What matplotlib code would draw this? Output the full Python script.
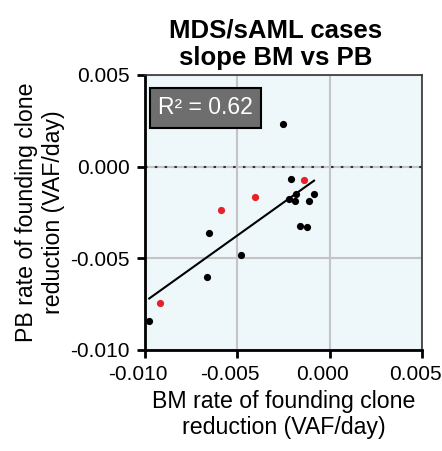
import numpy as np
import matplotlib.pyplot as plt
import matplotlib.transforms as mtransforms

plt.rcParams['font.family'] = ['Liberation Sans', 'DejaVu Sans']

# BM vs PB slopes (VAF/day)
bm_black = [-0.00251, -0.00211, -0.00220, -0.00182, -0.00187, -0.00112, -0.00085,
            -0.00162, -0.00124, -0.00652, -0.00482, -0.00666, -0.00977]
pb_black = [0.00234, -0.00067, -0.00178, -0.00148, -0.00190, -0.00190, -0.00150,
            -0.00322, -0.00328, -0.00360, -0.00482, -0.00600, -0.00840]
bm_red = [-0.00137, -0.00402, -0.00590, -0.00917]
pb_red = [-0.00074, -0.00167, -0.00237, -0.00745]
ticks = [-0.010, -0.005, 0.000, 0.005]
tick_labels = ['-0.010', '-0.005', '0.000', '0.005']
r2_label = "R\u00b2 = 0.62"

fig = plt.figure(figsize=(4.42, 4.51), dpi=100)
ax = fig.add_axes([0.328, 0.224, 0.627, 0.61])
ax.set_facecolor('#eef7fa')

ax.set_xlim(-0.010, 0.005)
ax.set_ylim(-0.010, 0.005)
ax.set_xticks(ticks)
ax.set_yticks(ticks)
ax.set_xticklabels(tick_labels)
ax.set_yticklabels(tick_labels)
ax.grid(True, color='#c4c4c4', lw=1.5, zorder=0)
ax.set_axisbelow(True)

ax.axhline(0, color='#333333', ls=(0, (1.2, 3.5)), lw=1.5, zorder=1)

# linear fit over all points
x_all = np.array(bm_black + bm_red)
y_all = np.array(pb_black + pb_red)
m, b = np.polyfit(x_all, y_all, 1)
xs = np.array([x_all.min(), x_all.max()])
ax.plot(xs, m * xs + b, color='black', lw=1.5, zorder=2)

ax.scatter(bm_black, pb_black, s=27, color='black', zorder=3, linewidths=0)
ax.scatter(bm_red, pb_red, s=27, color='#e8202a', zorder=3, linewidths=0)

ax.text(0.047, 0.88, r2_label, transform=ax.transAxes, fontsize=16.5, color='white',
        va='center', ha='left',
        bbox=dict(boxstyle='square,pad=0.36', facecolor='#6e6e6e', edgecolor='black', lw=1.5))

for s in ['left', 'bottom']:
    ax.spines[s].set_linewidth(2)
    ax.spines[s].set_color('black')
for s in ['top', 'right']:
    ax.spines[s].set_linewidth(1.2)
    ax.spines[s].set_color('#333333')
ax.tick_params(axis='both', direction='out', length=6, width=2, labelsize=15,
               colors='black', pad=5)

# x tick labels sit a little left of their ticks in the original
shift = mtransforms.ScaledTranslation(-7 / 100, 0, fig.dpi_scale_trans)
for lab in ax.get_xticklabels():
    lab.set_transform(lab.get_transform() + shift)

ax.set_title("MDS/sAML cases\nslope BM vs PB", fontsize=18.5, fontweight='bold', pad=7, x=0.47)
ax.set_xlabel("BM rate of founding clone\nreduction (VAF/day)", fontsize=16.7, labelpad=4)
ax.set_ylabel("PB rate of founding clone\nreduction (VAF/day)", fontsize=16.7, labelpad=4)

fig.savefig('out.png', dpi=100)
